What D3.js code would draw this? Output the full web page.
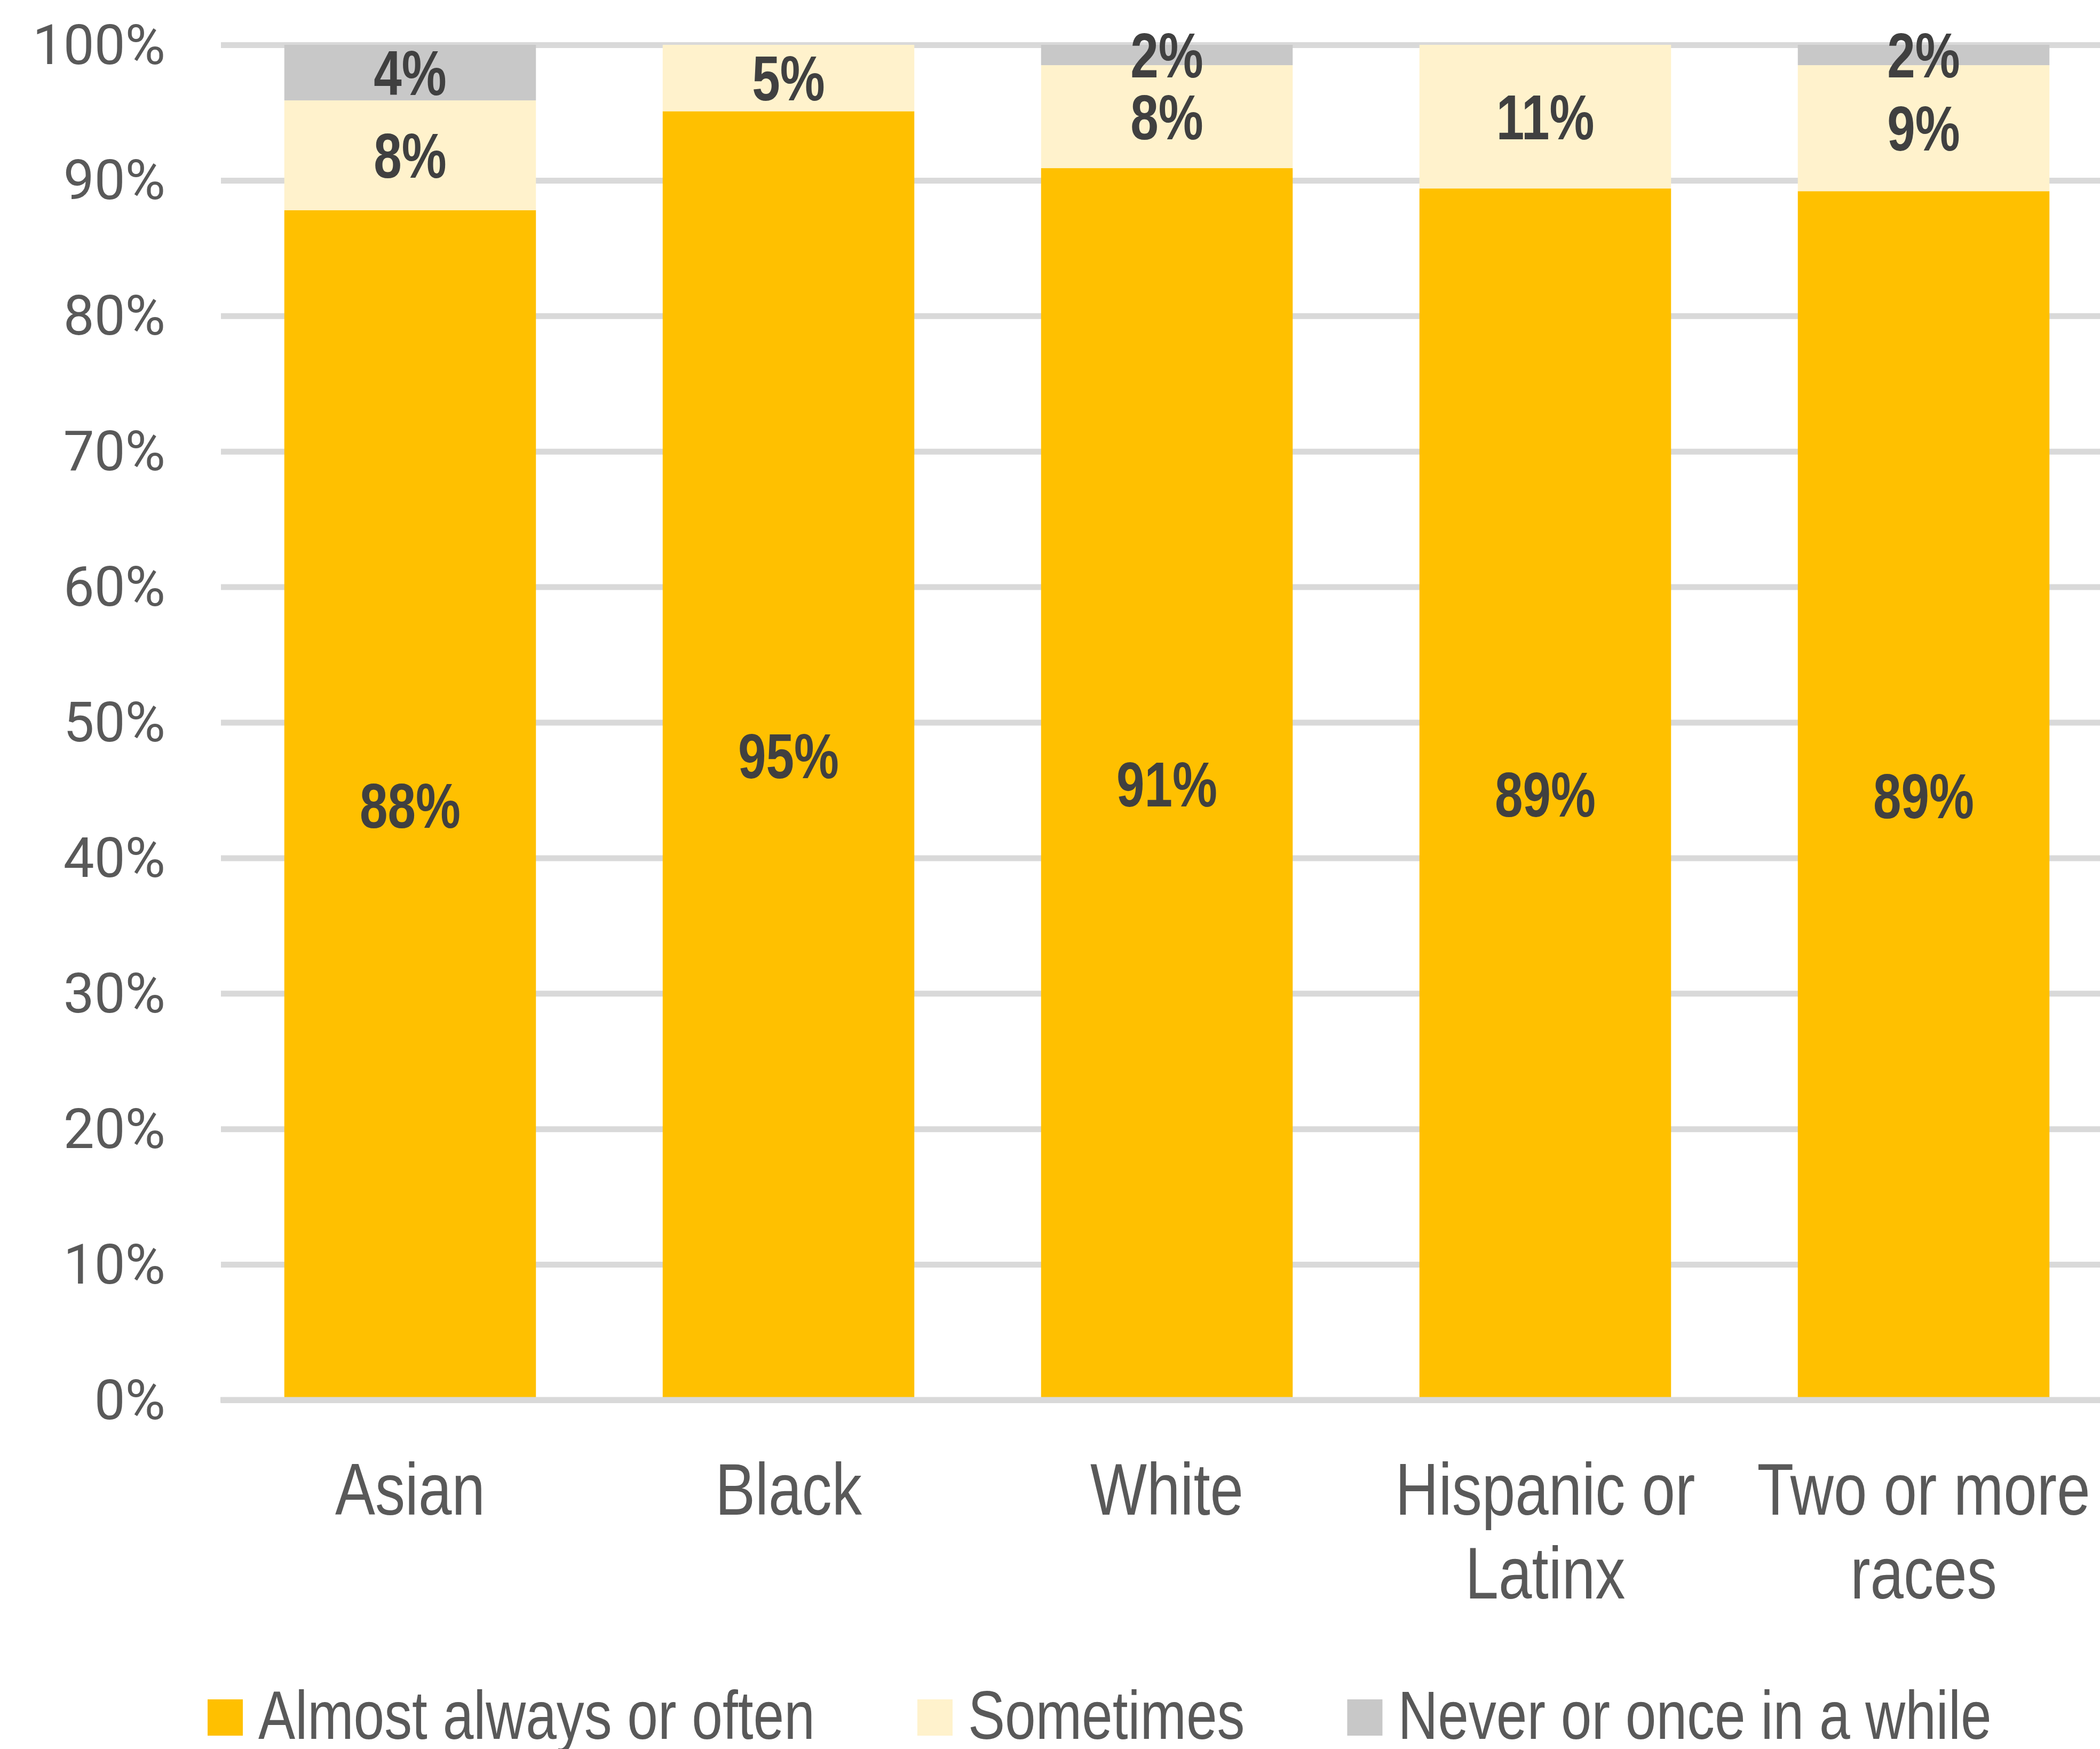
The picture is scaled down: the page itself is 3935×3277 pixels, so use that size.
<!DOCTYPE html>
<html>
<head>
<meta charset="utf-8">
<script src="https://cdn.jsdelivr.net/npm/d3@7"></script>
<style>
  html, body { margin: 0; padding: 0; background: #ffffff; }
  svg { display: block; }
</style>
</head>
<body>
<svg id="chart" width="3935" height="3277"></svg>
<script>
// Share of respondents by race/ethnicity, stacked to 100%
const categories = [["Asian"], ["Black"], ["White"], ["Hispanic or", "Latinx"], ["Two or more", "races"]];
const almostAlways = [87.8, 95.1, 90.9, 89.4, 89.2];
const sometimes    = [8.1, 4.9, 7.6, 10.6, 9.3];
const never        = [4.1, 0, 1.5, 0, 1.5];
const yTicks = [0, 10, 20, 30, 40, 50, 60, 70, 80, 90, 100];
const seriesNames = ["Almost always or often", "Sometimes", "Never or once in a while"];
const seriesColors = ["#FFC000", "#FFF2CC", "#C8C8C8"];

const svg = d3.select("#chart");
// Narrow face: Liberation Sans compressed horizontally
const narrow = "'Liberation Sans', Arial, sans-serif";
const squeeze = 0.82;

const plotLeft = 414, step = 709;
const x = d3.scaleBand()
  .domain(d3.range(categories.length))
  .range([plotLeft, plotLeft + step * categories.length])
  .paddingInner(0.335)
  .paddingOuter(0.1675);

const y = d3.scaleLinear().domain([0, 100]).range([2623, 84]);

// Gridlines and percentage ticks
const yAxis = d3.axisLeft(y)
  .tickValues(yTicks)
  .tickFormat(d => d + "%")
  .tickSize(-(3935 - plotLeft + 40))
  .tickPadding(104);

const yg = svg.append("g").attr("transform", `translate(${plotLeft},0)`).call(yAxis);
yg.select(".domain").remove();
yg.selectAll(".tick line").attr("stroke", "#d9d9d9").attr("stroke-width", 11);
yg.selectAll(".tick text")
  .attr("fill", "#595959")
  .attr("font-family", "Roboto, 'Liberation Sans', sans-serif")
  .attr("font-size", 103)
  .attr("dy", "0.34em");

// Stack the three series
const rows = categories.map((c, i) => ({ i, a: almostAlways[i], s: sometimes[i], n: never[i] }));
const stack = d3.stack().keys(["a", "s", "n"]);
const layers = stack(rows);

const barG = svg.append("g");
layers.forEach((layer, k) => {
  barG.selectAll(null)
    .data(layer.filter(d => d[1] - d[0] > 0))
    .join("rect")
    .attr("x", d => x(d.data.i))
    .attr("width", x.bandwidth())
    .attr("y", d => y(d[1]))
    .attr("height", d => y(d[0]) - y(d[1]))
    .attr("fill", seriesColors[k]);
});

// Baseline drawn over the bars
svg.append("line")
  .attr("x1", plotLeft - 1).attr("x2", 3935)
  .attr("y1", y(0)).attr("y2", y(0))
  .attr("stroke", "#d9d9d9").attr("stroke-width", 11);

// Value labels centred in each segment
const labelSize = 118;
layers.forEach((layer) => {
  svg.append("g").selectAll("text")
    .data(layer.filter(d => d[1] - d[0] > 0))
    .join("text")
    .attr("transform", d => {
      const cx = x(d.data.i) + x.bandwidth() / 2;
      const cy = (y(d[0]) + y(d[1])) / 2 + labelSize * 0.716 / 2;
      return `translate(${cx},${cy}) scale(${squeeze - 0.02},1)`;
    })
    .attr("text-anchor", "middle")
    .attr("font-family", narrow)
    .attr("font-weight", "bold")
    .attr("font-size", labelSize)
    .attr("fill", "#404040")
    .text(d => Math.round(d[1] - d[0]) + "%");
});

// Category labels
const catG = svg.append("g");
categories.forEach((lines, i) => {
  const cx = x(i) + x.bandwidth() / 2;
  const t = catG.append("text")
    .attr("transform", `translate(${cx},2838) scale(${squeeze},1)`)
    .attr("text-anchor", "middle")
    .attr("font-family", narrow)
    .attr("font-size", 137)
    .attr("fill", "#595959");
  lines.forEach((ln, j) => {
    t.append("tspan")
      .attr("x", 0)
      .attr("dy", j === 0 ? 0 : 157)
      .text(ln);
  });
});

// Legend
const legend = svg.append("g");
let lx = 389;
seriesNames.forEach((name, k) => {
  legend.append("rect")
    .attr("x", lx).attr("y", 3184)
    .attr("width", 66).attr("height", 68)
    .attr("fill", seriesColors[k]);
  const t = legend.append("text")
    .attr("transform", `translate(${lx + 95},3258) scale(${squeeze - 0.01},1)`)
    .attr("font-family", narrow)
    .attr("font-size", 128)
    .attr("fill", "#595959")
    .text(name);
  lx += 95 + t.node().getComputedTextLength() * (squeeze - 0.01) + 192;
});
</script>
</body>
</html>
